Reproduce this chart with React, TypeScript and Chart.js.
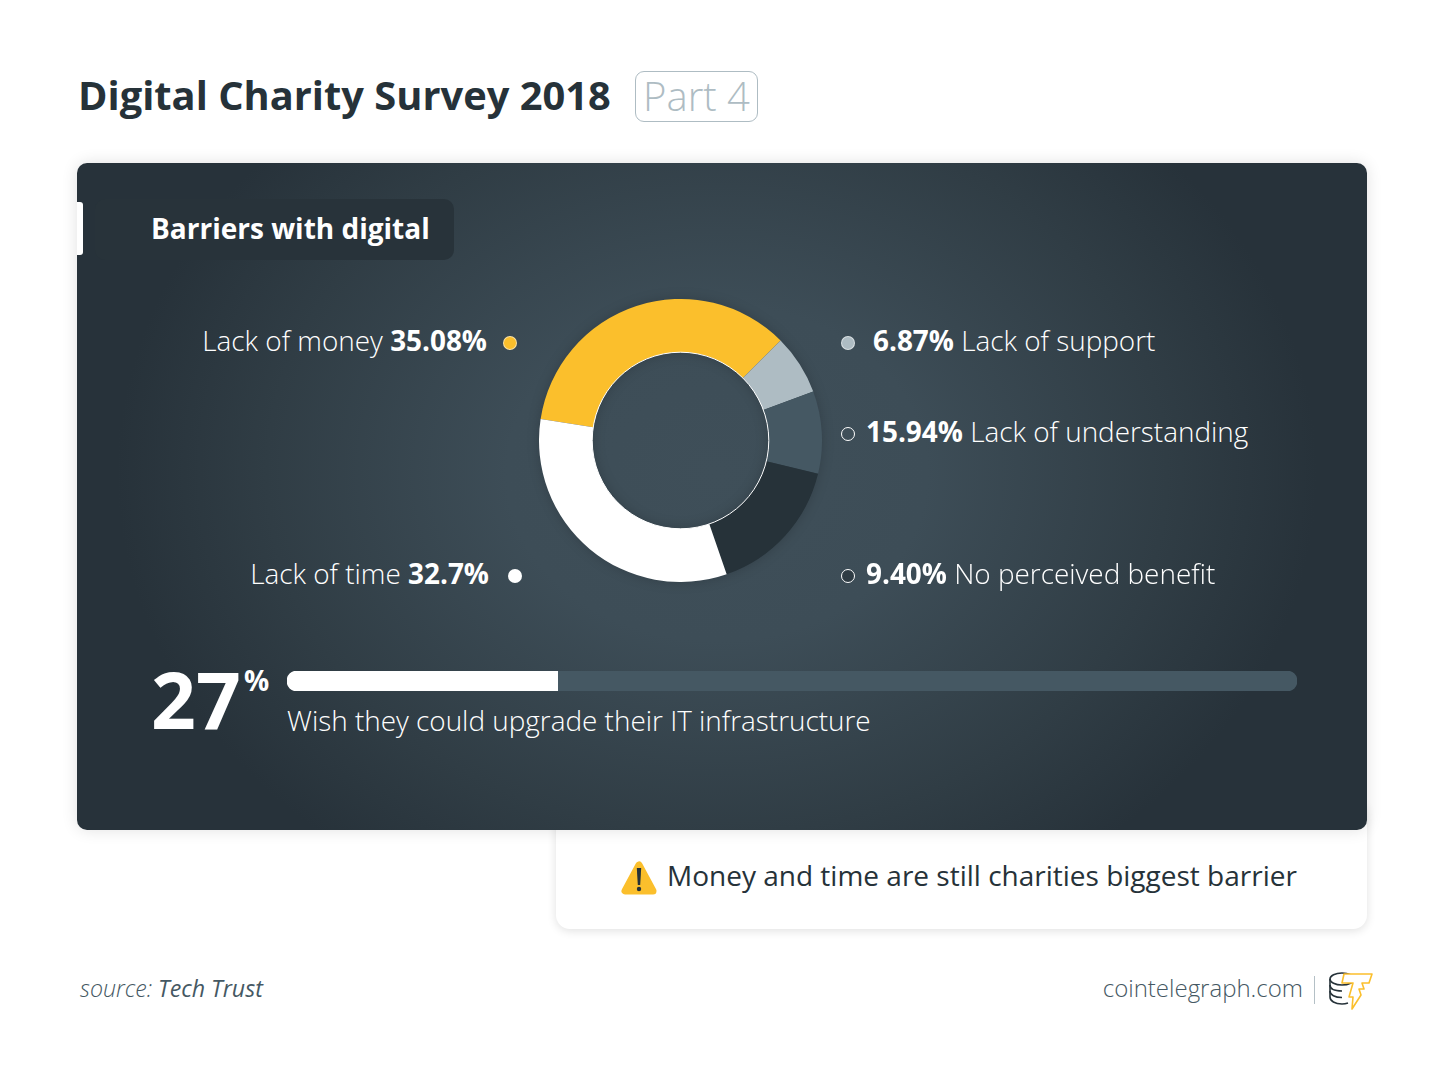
import React, { useEffect, useRef } from "react";
import { Chart, registerables } from "chart.js";

Chart.register(...registerables);

const sliceNames = ["Lack of money", "Lack of support", "No perceived benefit", "Lack of understanding", "Lack of time"];
const sliceShares = [35.08, 6.87, 9.4, 15.94, 32.7];
const sliceColors = ["#fbbf2c", "#aebcc3", "#455863", "#263239", "#ffffff"];
const barLabels = ["IT infrastructure"];
const barFilled = [26.8];
const barRest = [73.2];
const FONT = "'Open Sans', sans-serif";

type Lbl = { value: string; name: string; y: number; dotX: number; dotFill: string; dotStroke?: string };
const leftLabels: (Lbl & { textEnd: number })[] = [
  { value: "35.08%", name: "Lack of money", y: 342, dotX: 510, dotFill: "#fbbf2c", textEnd: 487 },
  { value: "32.7%", name: "Lack of time", y: 575, dotX: 515, dotFill: "#ffffff", textEnd: 489 },
];
const rightLabels: (Lbl & { textX: number })[] = [
  { value: "6.87%", name: "Lack of support", y: 342, dotX: 848, dotFill: "#aebcc3", textX: 873 },
  { value: "15.94%", name: "Lack of understanding", y: 433, dotX: 848, dotFill: "#3f4f59", dotStroke: "#fff", textX: 866 },
  { value: "9.40%", name: "No perceived benefit", y: 575, dotX: 848, dotFill: "#2f3c44", dotStroke: "#fff", textX: 866 },
];

const abs = (left: number, top: number, extra: React.CSSProperties = {}): React.CSSProperties => ({
  position: "absolute", left, top, whiteSpace: "nowrap", ...extra,
});

function Dot({ x, y, fill, stroke }: { x: number; y: number; fill: string; stroke?: string }) {
  return (
    <div style={abs(x - 7, y - 6, {
      width: 14, height: 14, borderRadius: "50%", background: fill,
      boxSizing: "border-box", border: stroke ? `1.5px solid ${stroke}` : "1px solid rgba(255,255,255,.55)",
    })} />
  );
}

export default function App() {
  const ringRef = useRef<HTMLCanvasElement>(null);
  const barRef = useRef<HTMLCanvasElement>(null);

  useEffect(() => {
    document.body.style.margin = "0";
    document.body.style.overflow = "hidden";
    const innerLine = {
      id: "innerLine",
      afterDatasetsDraw(chart: any) {
        const arc = chart.getDatasetMeta(0).data[0];
        const { ctx } = chart;
        ctx.save();
        ctx.beginPath();
        ctx.arc(arc.x, arc.y, arc.innerRadius, 0, Math.PI * 2);
        ctx.strokeStyle = "#ffffff";
        ctx.lineWidth = 1;
        ctx.stroke();
        ctx.restore();
      },
    };
    const ring = new Chart(ringRef.current!, {
      type: "doughnut",
      data: {
        labels: sliceNames,
        datasets: [{ data: sliceShares, backgroundColor: sliceColors, borderWidth: 0, hoverOffset: 0 }],
      },
      options: {
        animation: false,
        responsive: false,
        cutout: "62.4%",
        rotation: -81.3,
        layout: { padding: 0 },
        plugins: { legend: { display: false }, tooltip: { enabled: false } },
      },
      plugins: [innerLine],
    });
    const bar = new Chart(barRef.current!, {
      type: "bar",
      data: {
        labels: barLabels,
        datasets: [
          { data: barFilled, backgroundColor: "#ffffff", borderWidth: 0, borderSkipped: false, barThickness: 20,
            borderRadius: { topLeft: 10, bottomLeft: 10, topRight: 0, bottomRight: 0 } },
          { data: barRest, backgroundColor: "#455863", borderWidth: 0, borderSkipped: false, barThickness: 20,
            borderRadius: { topLeft: 0, bottomLeft: 0, topRight: 10, bottomRight: 10 } },
        ],
      },
      options: {
        indexAxis: "y",
        animation: false,
        responsive: false,
        layout: { padding: 0 },
        scales: {
          x: { stacked: true, min: 0, max: 100, display: false },
          y: { stacked: true, display: false },
        },
        plugins: { legend: { display: false }, tooltip: { enabled: false } },
      },
    });
    return () => { ring.destroy(); bar.destroy(); };
  }, []);

  const labelText: React.CSSProperties = { fontFamily: FONT, fontSize: 27.9, fontWeight: 300, color: "#fff", lineHeight: "36px" };

  return (
    <div style={{ position: "absolute", left: 0, top: 0, width: 1450, height: 1086, background: "#fff", overflow: "hidden", fontFamily: FONT }}>
      <div style={abs(78, 67, { fontSize: 39.85, fontWeight: 700, color: "#263239", lineHeight: "56px" })}>Digital Charity Survey 2018</div>
      <div style={abs(635, 71, { width: 123, height: 51, boxSizing: "border-box", border: "1px solid #aebcc3", borderRadius: 9, textAlign: "center", fontSize: 40, fontWeight: 300, color: "#aebcc3", lineHeight: "48px" })}>Part 4</div>

      <div style={abs(556, 800, { width: 811, height: 129, background: "#fff", borderRadius: 14, boxShadow: "0 2px 10px rgba(0,0,0,.12)" })} />
      <svg style={abs(619, 858)} width="40" height="40" viewBox="0 0 40 40">
        <path d="M20 7 L6 33 L34 33 Z" fill="#fff" stroke="#fff" strokeWidth="9" strokeLinejoin="round" />
        <path d="M20 7 L6 33 L34 33 Z" fill="#fbbf2c" stroke="#fbbf2c" strokeWidth="7" strokeLinejoin="round" />
        <path d="M17.8 10 H22.2 L21.2 27 H18.8 Z" fill="#263239" />
        <circle cx="20" cy="31" r="2.2" fill="#263239" />
      </svg>
      <div style={abs(667, 856, { fontSize: 28, fontWeight: 400, color: "#263239", lineHeight: "38px" })}>Money and time are still charities biggest barrier</div>

      <div style={abs(77, 163, {
        width: 1290, height: 667, borderRadius: 10,
        background: "radial-gradient(ellipse 600px 480px at 640px 310px, #3f4f59 0%, #3d4d57 35%, #303d45 75%, #27323a 100%)",
        boxShadow: "0 0 16px rgba(0,0,0,.12)",
      })} />
      <div style={abs(77, 202, { width: 6, height: 53, background: "#fff", borderRadius: "0 3px 3px 0" })} />
      <div style={abs(95, 199, { width: 359, height: 61, background: "#28333a", borderRadius: 10 })} />
      <div style={abs(151, 208, { fontSize: 28, fontWeight: 700, color: "#fff", lineHeight: "40px" })}>Barriers with digital</div>

      <canvas ref={ringRef} width={283} height={283} style={abs(539, 299, { width: 283, height: 283, filter: "drop-shadow(0 0 6px rgba(0,0,0,.18))" })} />

      {leftLabels.map((l) => (
        <React.Fragment key={l.name}>
          <div style={{ ...abs(0, l.y - 20), ...labelText, width: l.textEnd, textAlign: "right" }}>
            {l.name} <b style={{ fontWeight: 700 }}>{l.value}</b>
          </div>
          <Dot x={l.dotX} y={l.y} fill={l.dotFill} stroke={l.dotStroke} />
        </React.Fragment>
      ))}
      {rightLabels.map((l) => (
        <React.Fragment key={l.name}>
          <Dot x={l.dotX} y={l.y} fill={l.dotFill} stroke={l.dotStroke} />
          <div style={{ ...abs(l.textX, l.y - 20), ...labelText }}>
            <b style={{ fontWeight: 700 }}>{l.value}</b> {l.name}
          </div>
        </React.Fragment>
      ))}

      <div style={abs(151, 651, { fontSize: 78.5, fontWeight: 700, color: "#fff", lineHeight: "96px" })}>27</div>
      <div style={abs(244, 662, { fontSize: 28, fontWeight: 700, color: "#fff", lineHeight: "36px" })}>%</div>
      <canvas ref={barRef} width={1010} height={20} style={abs(287, 671, { width: 1010, height: 20 })} />
      <div style={{ ...abs(287, 702), ...labelText }}>Wish they could upgrade their IT infrastructure</div>

      <div style={abs(80, 971, { fontSize: 23.2, fontWeight: 300, fontStyle: "italic", color: "#455863", lineHeight: "34px" })}>
        source: <span style={{ fontWeight: 400 }}>Tech Trust</span>
      </div>
      <div style={{ ...abs(0, 971), width: 1303, textAlign: "right", fontSize: 24, fontWeight: 300, color: "#455863", lineHeight: "34px" }}>cointelegraph.com</div>
      <div style={abs(1314, 976, { width: 1, height: 28, background: "#b4c0c6" })} />
      <svg style={abs(1328, 970)} width="46" height="42" viewBox="0 0 46 42" fill="none">
        <g stroke="#263239" strokeWidth="1.6">
          <ellipse cx="14" cy="9" rx="12" ry="6" />
          <path d="M2 9 V27 C2 31 7 34 14 34 C16 34 18 33.7 20 33" />
          <path d="M2 15 C2 19 7 21 14 21 M2 21 C2 25 7 27.5 14 27.5" />
        </g>
        <path d="M16 4 L44 4 L41 13 L34 13 L36 19 L31 19 L33 25 L24 39 L25 27 L21 27 L23 20 L25 13 L14 13 Z" fill="#fff" stroke="#fbbf2c" strokeWidth="1.6" strokeLinejoin="round" />
      </svg>
    </div>
  );
}
